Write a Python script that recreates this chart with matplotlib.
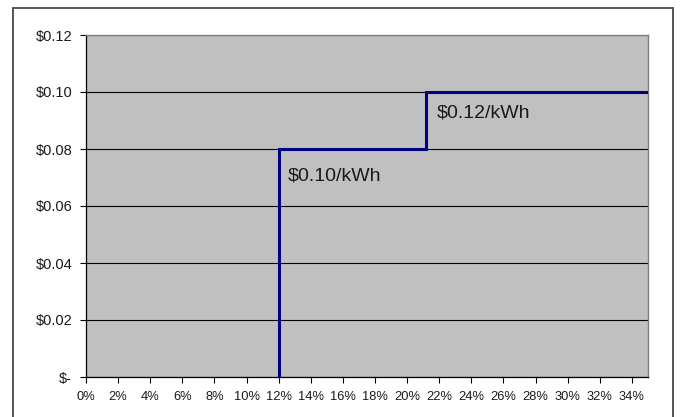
import matplotlib
matplotlib.use("Agg")
import matplotlib.pyplot as plt
from matplotlib.patches import Rectangle
from matplotlib.ticker import FuncFormatter, MultipleLocator

plt.rcParams["font.family"] = ["Liberation Sans", "DejaVu Sans"]

# step curve: share of load (x) vs price ($/kWh)
step_x = [0.12, 0.12, 0.212, 0.212, 0.35]
step_y = [0.00, 0.08, 0.08, 0.10, 0.10]

rate_labels = ["$0.10/kWh", "$0.12/kWh"]
rate_label_x = [0.1255, 0.2185]
rate_label_y = [0.0705, 0.0925]

y_ticks = [0.00, 0.02, 0.04, 0.06, 0.08, 0.10, 0.12]


def money(v, pos):
    if abs(v) < 1e-9:
        return "$-"
    return f"${v:.2f}"


def pct(v, pos):
    return f"{round(v * 100):d}%"


fig = plt.figure(figsize=(6.8, 4.17), dpi=100)
ax = fig.add_axes([86 / 680, 1 - 377 / 417, (648 - 86) / 680, (377 - 35) / 417])
ax.set_facecolor("#C0C0C0")

ax.set_xlim(0, 0.35)
ax.set_ylim(0, 0.12)
ax.set_yticks(y_ticks)
ax.xaxis.set_major_locator(MultipleLocator(0.02))
ax.yaxis.set_major_formatter(FuncFormatter(money))
ax.xaxis.set_major_formatter(FuncFormatter(pct))

ax.yaxis.grid(True, color="black", linewidth=0.8)
ax.set_axisbelow(True)

ax.plot(step_x, step_y, color="#000080", linewidth=2.2, solid_joinstyle="miter", zorder=3)

for txt, tx, ty in zip(rate_labels, rate_label_x, rate_label_y):
    ax.text(tx, ty, txt, fontsize=14, color="#1a1a1a", va="center", ha="left")

ax.tick_params(axis="y", direction="out", length=4, width=0.8, labelsize=10.5,
               pad=6, labelcolor="#1a1a1a")
ax.tick_params(axis="x", direction="out", length=4, width=0.8, labelsize=9.3,
               pad=6, labelcolor="#1a1a1a")

for side in ["left", "bottom"]:
    ax.spines[side].set_color("black")
    ax.spines[side].set_linewidth(0.9)
for side in ["top", "right"]:
    ax.spines[side].set_color("#808080")
    ax.spines[side].set_linewidth(1.0)

# outer chart frame
frame = Rectangle((13 / 680, -0.05), (673 - 13) / 680, 1 - 8 / 417 + 0.05,
                  transform=fig.transFigure, fill=False, edgecolor="#555555",
                  linewidth=1.4, clip_on=False)
fig.patches.append(frame)

fig.savefig("out.png", dpi=100)
